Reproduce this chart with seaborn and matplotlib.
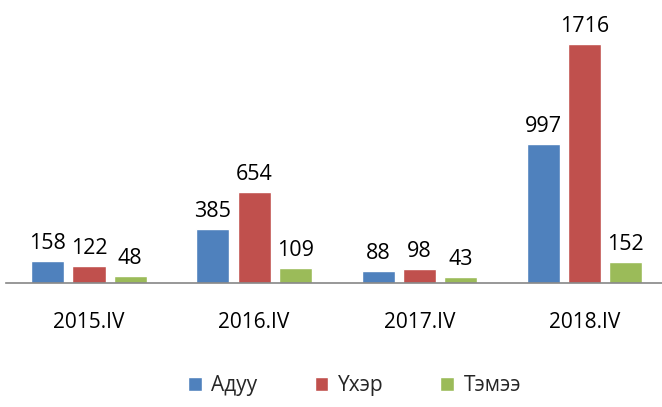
import pandas as pd
import matplotlib.pyplot as plt
import seaborn as sns

# chart values
periods = ["2015.IV", "2016.IV", "2017.IV", "2018.IV"]
animals = ["Адуу", "Үхэр", "Тэмээ"]
aduu = [158, 385, 88, 997]
ukher = [122, 654, 98, 1716]
temee = [48, 109, 43, 152]
colors = ["#4F81BD", "#C0504D", "#9BBB59"]

df = pd.DataFrame({
    "period": periods * 3,
    "animal": [a for a in animals for _ in periods],
    "value": aduu + ukher + temee,
})

sns.set_style("white")
plt.rcParams['font.family'] = ['Open Sans', 'DejaVu Sans']

fig = plt.figure(figsize=(6.62, 4.07), dpi=100)
# plot area runs a little past the right edge, like the original
ax = fig.add_axes([0.0097, 0.305, 0.998, 0.68])

sns.barplot(data=df, x="period", y="value", hue="animal", order=periods,
            hue_order=animals, palette=colors, width=0.75, gap=0.2,
            saturation=1, ax=ax)

# value labels
for container in ax.containers:
    ax.bar_label(container, padding=5, fontsize=15.5, color="#000000")

ax.set_ylim(0, 1990)
ax.set_xlabel("")
ax.set_ylabel("")
ax.set_yticks([])
ax.tick_params(axis='x', length=0, labelsize=15, pad=21, colors="#000000")
for s in ["top", "right", "left"]:
    ax.spines[s].set_visible(False)
ax.spines["bottom"].set_color("#868686")
ax.spines["bottom"].set_linewidth(1.2)

ax.legend(loc="center", bbox_to_anchor=(0.527, -0.372), ncol=3,
          frameon=False, fontsize=15, handlelength=0.65, handleheight=0.65,
          handletextpad=0.45, columnspacing=2.75)

fig.savefig("out.png", dpi=100)
